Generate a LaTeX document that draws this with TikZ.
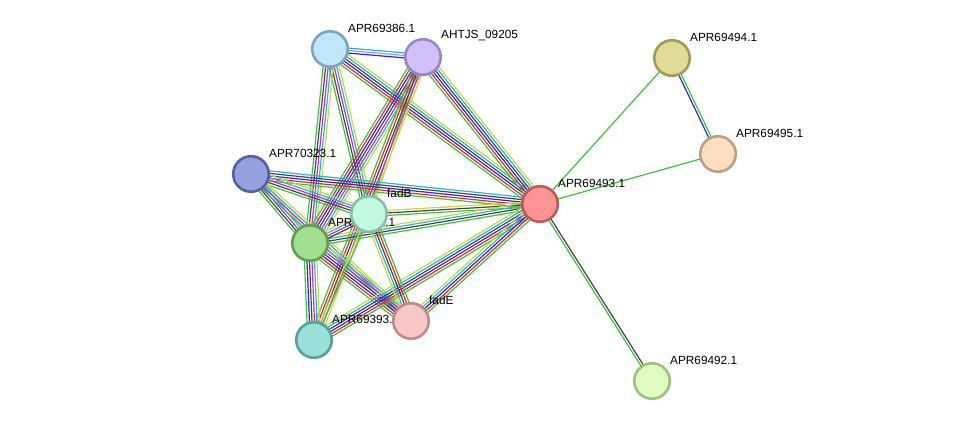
\documentclass[tikz,border=0pt]{standalone}
\usepackage{fontspec}
\setmainfont{Liberation Sans}
\usetikzlibrary{calc,backgrounds}
\definecolor{cg}{RGB}{60,195,60}
\definecolor{cr}{RGB}{235,40,40}
\definecolor{cb}{RGB}{40,40,235}
\definecolor{ck}{RGB}{70,70,70}
\definecolor{cm}{RGB}{205,40,205}
\definecolor{cc}{RGB}{40,180,220}
\definecolor{cy}{RGB}{200,215,60}
\definecolor{ch}{RGB}{150,150,250}
\definecolor{fA}{RGB}{192,230,250}\definecolor{bA}{RGB}{122,165,192}
\definecolor{fH}{RGB}{210,192,250}\definecolor{bH}{RGB}{154,133,201}
\definecolor{fP}{RGB}{150,160,220}\definecolor{bP}{RGB}{85,96,160}
\definecolor{fG}{RGB}{160,224,144}\definecolor{bG}{RGB}{96,160,80}
\definecolor{fB}{RGB}{194,250,224}\definecolor{bB}{RGB}{134,192,166}
\definecolor{fT}{RGB}{152,224,216}\definecolor{bT}{RGB}{88,160,152}
\definecolor{fE}{RGB}{248,200,200}\definecolor{bE}{RGB}{192,136,136}
\definecolor{fR}{RGB}{252,148,148}\definecolor{bR}{RGB}{192,88,88}
\definecolor{fQ}{RGB}{224,220,152}\definecolor{bQ}{RGB}{160,156,88}
\definecolor{fS}{RGB}{252,222,192}\definecolor{bS}{RGB}{192,160,128}
\definecolor{fU}{RGB}{224,252,192}\definecolor{bU}{RGB}{160,192,128}
\newcommand\sedge[4]{%
  \foreach \c [count=\i] in {#4} {
    \pgfmathsetmacro\off{(\i-(#3+1)/2)*2.5}
    \draw[conn,color=\c] ($(#1)!\off pt!90:(#2)$) -- ($(#2)!\off pt!-90:(#1)$);
  }}
\tikzset{
  prot/.style={circle,minimum size=35.5pt,inner sep=0pt,line width=2.6pt},
  lab/.style={anchor=west,inner sep=0pt,font=\fontsize{11.8}{13}\selectfont},
  conn/.style={line width=1.2pt},
}
\newcommand\prot[4]{% name, x, y, label
  \node[prot,fill=f#1,draw=b#1] (#1) at (#2,#3) {};
  \node[lab] (#1l) at (#2+18,#3-21) {#4};
}
\begin{document}
\begin{tikzpicture}[x=1pt,y=-1pt]
\useasboundingbox (0,0) rectangle (976,427);
\prot{A}{330}{49}{APR69386.1}
\prot{H}{423}{57}{AHTJS\_09205}
\prot{P}{251}{174}{APR70323.1}
\prot{G}{310}{243}{APR69392.1}
\prot{B}{369}{214}{fadB}
\prot{T}{314}{340}{APR69393.1}
\prot{E}{411}{321}{fadE}
\prot{R}{540}{204}{APR69493.1}
\prot{Q}{672}{58}{APR69494.1}
\prot{S}{718}{154}{APR69495.1}
\prot{U}{652}{381}{APR69492.1}
\begin{scope}[on background layer]
\sedge{A}{H}{3}{cb,ch,cc}
\sedge{A}{R}{6}{cg,cr,cb,ck,cc,cy}
\sedge{A}{B}{5}{cg,ck,cm,cc,cy}
\sedge{A}{G}{5}{cg,ck,cm,cc,cy}
\sedge{H}{R}{6}{cg,cr,cb,ck,cc,cy}
\sedge{H}{G}{7}{cg,cr,cb,ck,cm,cc,cy}
\sedge{H}{B}{2}{cg,cy}
\sedge{H}{T}{5}{cg,cr,ck,cm,cy}
\sedge{P}{R}{5}{cg,cr,cb,ck,cc}
\sedge{P}{B}{5}{cg,ck,cm,cc,cy}
\sedge{P}{G}{5}{cg,ck,cm,cc,cy}
\sedge{P}{E}{4}{cg,cm,cc,cy}
\sedge{B}{R}{3}{cg,ck,cy}
\sedge{G}{R}{4}{cg,ck,cc,cy}
\sedge{G}{B}{4}{ck,cm,cc,cy}
\sedge{G}{T}{6}{cg,cb,ck,cm,cc,cy}
\sedge{G}{E}{7}{cg,cr,cb,ck,cm,cc,cy}
\sedge{T}{R}{6}{cg,cr,cb,ck,cc,cy}
\sedge{T}{B}{2}{cg,cy}
\sedge{E}{R}{5}{cg,cr,cb,cc,cy}
\sedge{E}{B}{5}{cg,cr,ck,cc,cy}
\sedge{R}{Q}{1}{cg}
\sedge{R}{S}{1}{cg}
\sedge{Q}{S}{2}{cb,cg}
\sedge{R}{U}{2}{cg,ck}
\end{scope}
\end{tikzpicture}
\end{document}
